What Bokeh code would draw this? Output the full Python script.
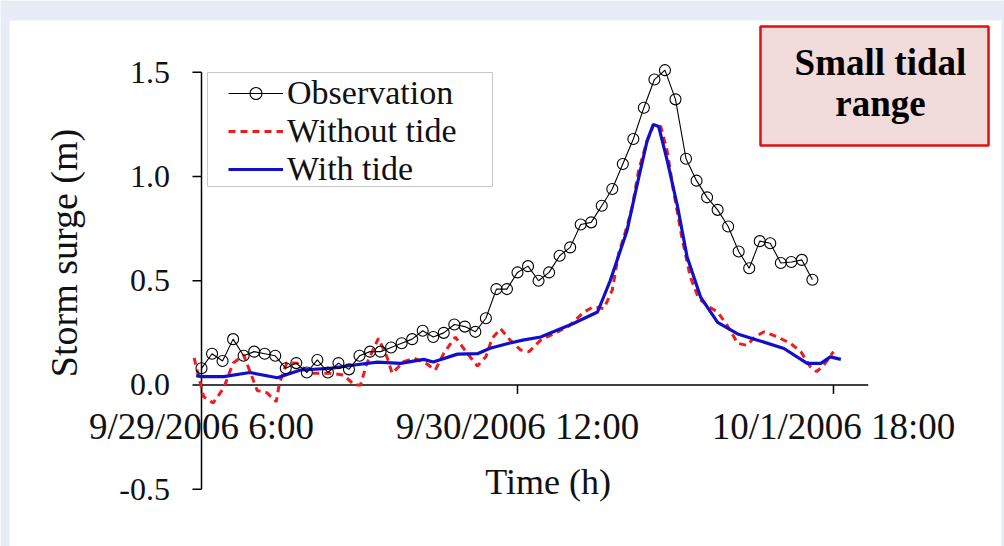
import math
from bokeh.plotting import figure
from bokeh.models import Range1d, Legend, LegendItem, BoxAnnotation, Label
from bokeh.core.properties import value
from bokeh.embed import file_html
from bokeh.resources import INLINE

# ---------------- data (hours since 9/29/2006 6:00) ----------------
obs_hours = list(range(0, 59))
obs_surge = [0.08, 0.15, 0.115, 0.22, 0.14, 0.16, 0.15, 0.14, 0.08, 0.105,
             0.06, 0.12, 0.06, 0.105, 0.075, 0.14, 0.16, 0.16, 0.18, 0.20,
             0.22, 0.26, 0.23, 0.25, 0.29, 0.28, 0.255, 0.32, 0.46, 0.46,
             0.54, 0.57, 0.50, 0.54, 0.62, 0.66, 0.77, 0.78, 0.86, 0.94,
             1.06, 1.18, 1.33, 1.465, 1.51, 1.37, 1.085, 0.98, 0.90, 0.84,
             0.76, 0.64, 0.56, 0.69, 0.68, 0.585, 0.59, 0.60, 0.505]

notide_hours = [-0.7, 0.2, 1.1, 2.1, 3.0, 4.0, 5.3, 6.2, 7.1, 7.4, 8.1, 9.1, 10.3,
                12.2, 13.5, 14.5, 15.1, 15.7, 16.8, 17.6, 18.1, 19.2, 20.2, 21.3,
                22.2, 23.0, 24.1, 25.1, 26.2, 27.0, 27.6, 28.4, 29.3, 30.3, 31.1,
                32.2, 33.8, 35.0, 36.3, 37.2, 38.2, 39.0, 39.6, 40.4, 40.9, 41.5,
                42.3, 42.9, 43.6, 44.2, 44.8, 45.6, 46.4, 47.2, 48.2, 49.0, 49.9,
                50.9, 51.8, 52.5, 53.4, 54.7, 55.9, 56.9, 57.8, 58.4, 59.1, 60.0]
notide_surge = [0.13, -0.056, -0.086, -0.015, 0.105, 0.144, -0.027, -0.037, -0.08,
                0.008, 0.107, 0.104, 0.056, 0.056, 0.048, 0.0, 0.0, 0.104, 0.224,
                0.136, 0.056, 0.112, 0.128, 0.104, 0.072, 0.152, 0.23, 0.16, 0.091,
                0.136, 0.224, 0.27, 0.215, 0.168, 0.16, 0.215, 0.255, 0.287, 0.35,
                0.375, 0.367, 0.455, 0.63, 0.76, 0.855, 1.03, 1.17, 1.245, 1.24,
                1.125, 0.935, 0.71, 0.52, 0.415, 0.375, 0.35, 0.287, 0.20, 0.19,
                0.23, 0.255, 0.23, 0.20, 0.16, 0.088, 0.064, 0.096, 0.16]

tide_hours = [-0.5, 0.0, 2.1, 4.6, 7.2, 9.4, 12.2, 14.5, 16.7, 18.9, 21.1, 22.0,
              24.3, 26.2, 27.4, 29.2, 30.5, 32.2, 35.3, 37.6, 38.8, 40.4, 41.4,
              42.3, 42.9, 43.4, 44.2, 45.2, 46.1, 47.4, 49.0, 50.9, 52.8, 55.3,
              57.5, 58.8, 59.7, 60.7]
tide_surge = [0.045, 0.04, 0.04, 0.06, 0.035, 0.072, 0.08, 0.096, 0.11, 0.104,
              0.123, 0.11, 0.148, 0.15, 0.176, 0.20, 0.215, 0.23, 0.295, 0.35,
              0.50, 0.74, 0.97, 1.17, 1.25, 1.24, 1.08, 0.855, 0.615, 0.42, 0.30,
              0.245, 0.215, 0.175, 0.104, 0.104, 0.135, 0.123]

x_tick_hours = [0, 30, 60]
x_tick_labels = ["9/29/2006 6:00", "9/30/2006 12:00", "10/1/2006 18:00"]
y_ticks = [-0.5, 0.0, 0.5, 1.0, 1.5]
y_tick_labels = ["-0.5", "0.0", "0.5", "1.0", "1.5"]

FONT = "Liberation Serif"
INK = "#111111"
BAND = "#e8ecf6"

# ---------------- figure: frame covers whole canvas, axes cross inside ----------------
p = figure(width=1004, height=546, output_backend="svg", toolbar_location=None,
           x_range=Range1d(-19.083, 76.237), y_range=Range1d(-0.7746, 1.8441),
           x_axis_location=None, y_axis_location=None,
           min_border=0, min_border_left=0, min_border_right=0,
           min_border_top=0, min_border_bottom=0)
p.outline_line_color = None
p.grid.visible = False
p.background_fill_color = "white"
p.border_fill_color = "white"

# light page frame (top band, left and right strips)
p.add_layout(BoxAnnotation(bottom=1.7482, fill_color=BAND, fill_alpha=1, line_color=None))
p.add_layout(BoxAnnotation(right=-18.228, fill_color=BAND, fill_alpha=1, line_color=None))
p.add_layout(BoxAnnotation(left=75.95, fill_color=BAND, fill_alpha=1, line_color=None))

# y axis (at x = 0)
p.segment(x0=[0], y0=[-0.5], x1=[0], y1=[1.5], line_color="black", line_width=1.5)
p.segment(x0=[0] * len(y_ticks), y0=y_ticks, x1=[-0.855] * len(y_ticks), y1=y_ticks,
          line_color="black", line_width=1.5)
p.text(x=[-3.0] * len(y_ticks), y=y_ticks, text=y_tick_labels,
       text_font=value(FONT), text_font_size="32px", text_align="right",
       text_baseline="middle", text_color=INK)
p.text(x=[-13.1], y=[0.633], text=["Storm surge (m)"], angle=math.pi / 2,
       text_font=value(FONT), text_font_size="38px", text_align="center",
       text_baseline="middle", text_color=INK)

# x axis (at y = 0)
p.segment(x0=[0], y0=[0], x1=[63.3], y1=[0], line_color="black", line_width=1.5)
p.segment(x0=x_tick_hours, y0=[0] * len(x_tick_hours), x1=x_tick_hours,
          y1=[-0.043] * len(x_tick_hours), line_color="black", line_width=1.5)
p.text(x=x_tick_hours, y=[-0.2] * len(x_tick_hours), text=x_tick_labels,
       text_font=value(FONT), text_font_size="37px", text_align="center",
       text_baseline="middle", text_color=INK)
p.text(x=[32.9], y=[-0.463], text=["Time (h)"], text_font=value(FONT),
       text_font_size="36px", text_align="center", text_baseline="middle",
       text_color=INK)

# series
r_nt = p.line(notide_hours, notide_surge, line_color="#ee1c1c", line_width=3,
              line_dash="7 5")
r_wt = p.line(tide_hours, tide_surge, line_color="#1010cc", line_width=3.2)
r_obs_l = p.line(obs_hours, obs_surge, line_color="black", line_width=1.1)
r_obs_s = p.scatter(obs_hours, obs_surge, marker="circle", size=11,
                    line_color="black", fill_color=None, line_width=1.1)

# legend frame
p.add_layout(BoxAnnotation(left=0.57, right=27.63, bottom=0.952, top=1.4988,
                           fill_color="white", fill_alpha=1,
                           line_color="#c8c8c8", line_alpha=1, line_width=1))

legend = Legend(items=[
    LegendItem(label="Observation", renderers=[r_obs_l, r_obs_s]),
    LegendItem(label="Without tide", renderers=[r_nt]),
    LegendItem(label="With tide", renderers=[r_wt]),
], location=(228, 358))
legend.label_text_font = FONT
legend.label_text_font_size = "34px"
legend.label_text_color = INK
legend.glyph_width = 55
legend.glyph_height = 30
legend.label_height = 30
legend.label_standoff = 4
legend.padding = 0
legend.spacing = 0
legend.margin = 0
legend.border_line_color = None
legend.background_fill_alpha = 0
p.add_layout(legend)

# annotation box
p.add_layout(BoxAnnotation(left=53.07, right=74.72, bottom=1.1487, top=1.7194,
                           fill_color="#f2dcdb", fill_alpha=1,
                           line_color="#e01010", line_alpha=1, line_width=2.5))
p.add_layout(Label(x=64.46, y=1.547, text="Small tidal", text_font=FONT,
                   text_font_size="37px", text_font_style="bold",
                   text_align="center", text_baseline="middle", text_color="black"))
p.add_layout(Label(x=64.46, y=1.35, text="range", text_font=FONT,
                   text_font_size="37px", text_font_style="bold",
                   text_align="center", text_baseline="middle", text_color="black"))

open("out.html", "w").write(file_html(p, INLINE))
